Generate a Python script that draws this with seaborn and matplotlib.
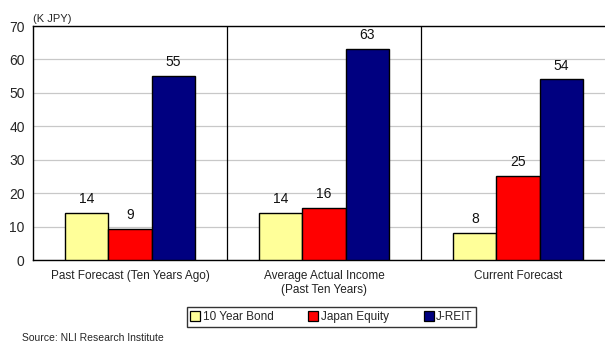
import matplotlib
matplotlib.use("Agg")
import matplotlib.pyplot as plt
import seaborn as sns
import pandas as pd
from matplotlib.lines import Line2D

categories = ["Past Forecast (Ten Years Ago)", "Average Actual Income\n(Past Ten Years)", "Current Forecast"]
series = ["10 Year Bond", "Japan Equity", "J-REIT"]
bond = [14, 14, 8]
equity = [9.3, 15.6, 25]
reit = [55, 63, 54]
colors = ["#FFFF99", "#FF0000", "#000080"]
yticks = [0, 10, 20, 30, 40, 50, 60, 70]

rows = []
for s, vals in zip(series, [bond, equity, reit]):
    for c, v in zip(categories, vals):
        rows.append({"cat": c, "series": s, "value": v})
df = pd.DataFrame(rows)

sns.set_theme(style="white")
plt.rcParams["font.family"] = ["Liberation Sans", "DejaVu Sans"]

fig = plt.figure(figsize=(6.05, 3.43), dpi=100)
W, H = 605, 343
ax_left, ax_right, ax_top, ax_bot = 33, 605, 26, 260
ax = fig.add_axes([ax_left / W, 1 - ax_bot / H, (ax_right - ax_left) / W, (ax_bot - ax_top) / H])

sns.barplot(data=df, x="cat", y="value", hue="series", order=categories, hue_order=series,
            palette=colors, width=0.665, gap=0, edgecolor="black", linewidth=1.0,
            saturation=1, ax=ax, legend=False, zorder=3)

grp_px = 194
ax.set_xlim(-0.5, -0.5 + (ax_right - ax_left) / grp_px)
ax.set_ylim(0, 70)
ax.set_yticks(yticks)
ax.set_yticklabels([str(t) for t in yticks], fontsize=10)
ax.yaxis.grid(True, color="#C8C8C8", linewidth=0.9, zorder=0)
ax.set_axisbelow(True)
ax.tick_params(axis="y", direction="in", length=4, width=0.9, color="black", pad=6)
ax.tick_params(axis="x", length=0, pad=7)
ax.set_xticks(range(len(categories)))
ax.set_xticklabels(categories, fontsize=8.5, color="#222222")
ax.set_xlabel("")
ax.set_ylabel("")

for sp in ["left", "bottom", "top"]:
    ax.spines[sp].set_visible(True)
    ax.spines[sp].set_color("black")
    ax.spines[sp].set_linewidth(1.0)
ax.spines["right"].set_visible(False)

for xb in [0.5, 1.5]:
    ax.axvline(xb, color="black", linewidth=0.9, zorder=4)

for cont in ax.containers:
    ax.bar_label(cont, fmt="%.0f", padding=5, fontsize=10, color="#111111")

ax.text(0.0, 1.01, "(K JPY)", transform=ax.transAxes, fontsize=8, ha="left", va="bottom")

handles = [Line2D([0], [0], marker="s", linestyle="", markersize=7, markerfacecolor=c,
                  markeredgecolor="black", markeredgewidth=0.9) for c in colors]
leg = fig.legend(handles, series, loc="center", bbox_to_anchor=(331.5 / W, 1 - 317 / H), ncol=3,
                 fontsize=8.5, frameon=True, fancybox=False, handlelength=0.8, handletextpad=0.2,
                 columnspacing=3.0, borderpad=0.35)
leg.get_frame().set_edgecolor("black")
leg.get_frame().set_linewidth(1.0)

fig.text(22 / W, 1 - 338 / H, "Source: NLI Research Institute", fontsize=7.5, ha="left", va="center")

fig.savefig("out.png", dpi=100)
